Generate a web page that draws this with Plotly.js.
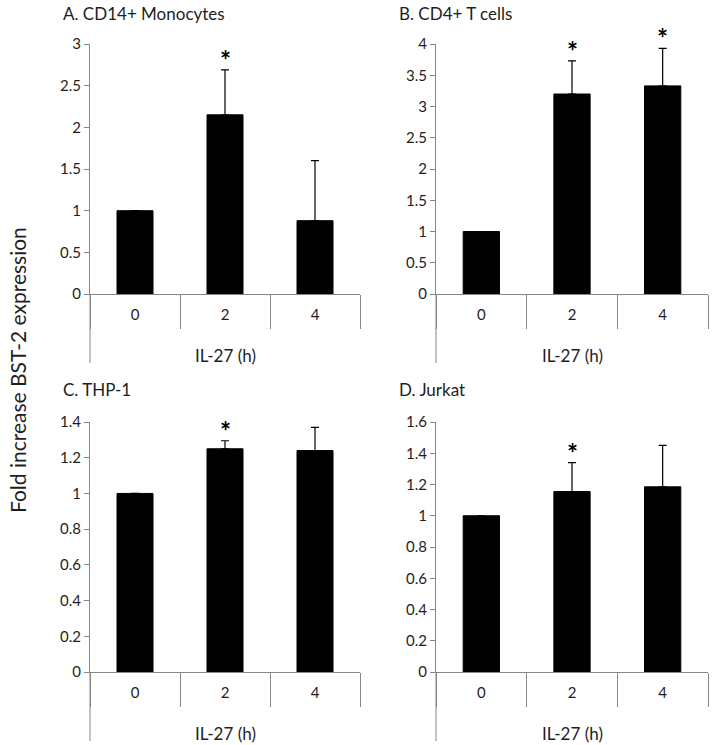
<!DOCTYPE html>
<html>
<head>
<meta charset="utf-8">
<script src="https://cdn.plot.ly/plotly-3.0.1.min.js"></script>
<style>html,body{margin:0;padding:0;background:#fff;}#chart{width:713px;height:745px;}</style>
</head>
<body>
<div id="chart"></div>
<script>
// ---- Data ----
const categories = ["0", "2", "4"];
const panelTitles = ["A. CD14+ Monocytes", "B. CD4+ T cells", "C. THP-1", "D. Jurkat"];
const monocytesValues = [1.0, 2.15, 0.88];
const monocytesErrors = [0, 0.54, 0.72];
const monocytesSig = [false, true, false];
const tcellsValues = [1.0, 3.20, 3.33];
const tcellsErrors = [0, 0.53, 0.60];
const tcellsSig = [false, true, true];
const thp1Values = [1.0, 1.25, 1.24];
const thp1Errors = [0, 0.045, 0.13];
const thp1Sig = [false, true, false];
const jurkatValues = [1.0, 1.155, 1.185];
const jurkatErrors = [0, 0.185, 0.265];
const jurkatSig = [false, true, false];
const yMax = [3, 4, 1.4, 1.6];
const yStep = [0.5, 0.5, 0.2, 0.2];
const xTitle = "IL-27 (h)";
const yTitle = "Fold increase BST-2 expression";

// ---- Build ----
const FONT = "Lato, 'Open Sans', sans-serif";
const GRAY = "#868686";
const TXT = "#1e1e1e";
const panels = [
  {vals: monocytesValues, errs: monocytesErrors, sig: monocytesSig},
  {vals: tcellsValues, errs: tcellsErrors, sig: tcellsSig},
  {vals: thp1Values, errs: thp1Errors, sig: thp1Sig},
  {vals: jurkatValues, errs: jurkatErrors, sig: jurkatSig}
];
const W = 713, H = 745;
const xDom = [[90 / W, 360 / W], [436 / W, 708 / W]];
const yDom = [[1 - 294 / H, 1 - 44 / H], [1 - 672 / H, 1 - 422 / H]];

const traces = [];
const annotations = [];
const shapes = [];
const layout = {
  width: W, height: H,
  margin: {l: 0, r: 0, t: 0, b: 0},
  paper_bgcolor: "#fff", plot_bgcolor: "rgba(0,0,0,0)",
  showlegend: false,
  font: {family: FONT, size: 15, color: TXT},
  bargap: 0.6
};

panels.forEach((p, i) => {
  const n = i + 1;
  const xa = n === 1 ? "x" : "x" + n;
  const ya = n === 1 ? "y" : "y" + n;
  const col = i % 2, row = Math.floor(i / 2);
  traces.push({
    type: "bar", x: categories, y: p.vals, xaxis: xa, yaxis: ya,
    marker: {color: "#000", line: {color: "#000", width: 1}},
    error_y: {type: "data", symmetric: false, array: p.errs,
      arrayminus: p.errs.map(() => 0), color: "#000", thickness: 1.2, width: 4},
    hoverinfo: "skip"
  });
  layout["xaxis" + (n === 1 ? "" : n)] = {
    domain: xDom[col], anchor: ya, type: "category", range: [-0.5, 2.5],
    showline: true, linecolor: GRAY, linewidth: 1,
    ticks: "outside", tickson: "boundaries", ticklen: 34, tickcolor: GRAY, tickwidth: 1,
    ticklabelstandoff: 7, showgrid: false, zeroline: false, fixedrange: true,
    tickfont: {family: FONT, size: 15, color: TXT}
  };
  layout["yaxis" + (n === 1 ? "" : n)] = {
    domain: yDom[row], anchor: xa, range: [0, yMax[i]], dtick: yStep[i], tick0: 0,
    showline: true, linecolor: GRAY, linewidth: 1,
    ticks: "outside", ticklen: 5, tickcolor: GRAY, tickwidth: 1,
    showgrid: false, zeroline: false, fixedrange: true,
    tickfont: {family: FONT, size: 15, color: TXT}
  };
  // y axis line extension below (Excel style)
  shapes.push({type: "line", xref: xa + " domain", yref: ya + " domain",
    x0: 0, x1: 0, y0: 0, y1: -0.276, line: {color: GRAY, width: 1}});
  // x axis title
  annotations.push({text: xTitle, xref: xa + " domain", yref: ya + " domain",
    x: 0.5, y: -0.245, xanchor: "center", yanchor: "middle", showarrow: false,
    font: {family: FONT, size: 17, color: TXT}});
  // panel title
  annotations.push({text: panelTitles[i], xref: "paper", yref: "paper",
    x: (col === 0 ? 61 : 397) / W, y: 1 - (row === 0 ? 14 : 389) / H,
    xanchor: "left", yanchor: "middle", showarrow: false,
    font: {family: FONT, size: 17, color: TXT}});
  // significance stars
  p.sig.forEach((s, k) => {
    if (!s) return;
    annotations.push({text: "<b>*</b>", xref: xa, yref: ya,
      x: k, y: p.vals[k] + p.errs[k], xanchor: "center", yanchor: "bottom",
      yshift: -8, showarrow: false, font: {family: FONT, size: 26, color: "#000"}});
  });
});

annotations.push({text: yTitle, xref: "paper", yref: "paper", x: 18 / W, y: 1 - 370 / H,
  xanchor: "center", yanchor: "middle", textangle: -90, showarrow: false,
  font: {family: FONT, size: 21, color: TXT}});

layout.annotations = annotations;
layout.shapes = shapes;

Plotly.newPlot("chart", traces, layout, {displayModeBar: false, staticPlot: true});
</script>
</body>
</html>
